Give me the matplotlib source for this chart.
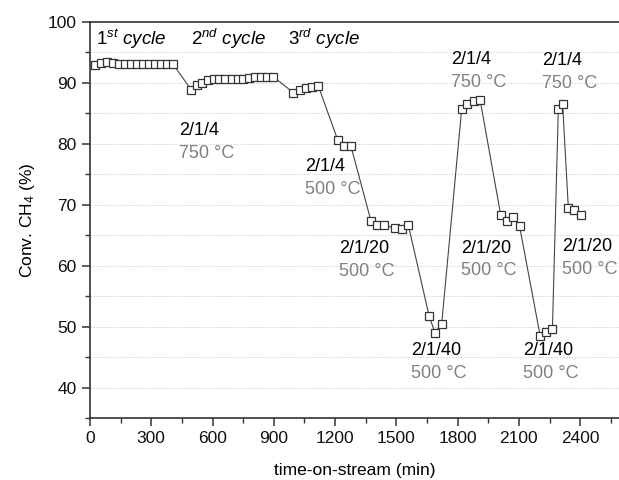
import matplotlib
matplotlib.use('Agg')
import matplotlib.pyplot as plt
from matplotlib.ticker import MultipleLocator

# time-on-stream (min) and CH4 conversion (%)
t_min = [23, 52, 82, 112, 141, 171, 200, 230, 259, 288, 318, 347, 377, 406,
         495, 522, 550, 580, 609, 633, 662, 694, 723, 751, 779, 808, 837, 868, 898,
         996, 1028, 1056, 1089, 1118,
         1213, 1244, 1277,
         1376, 1404, 1440, 1494, 1526, 1559,
         1660, 1689, 1722,
         1820, 1848, 1880, 1910,
         2011, 2040, 2073, 2103,
         2204, 2231, 2264,
         2293, 2314,
         2342, 2371, 2403]
conv = [92.9, 93.2, 93.4, 93.2, 93.1, 93.1, 93.1, 93.1, 93.1, 93.1, 93.1, 93.1, 93.1, 93.1,
        88.9, 89.6, 90.0, 90.4, 90.6, 90.6, 90.7, 90.7, 90.7, 90.7, 90.8, 90.9, 90.9, 91.0, 91.0,
        88.4, 88.8, 89.1, 89.3, 89.5,
        80.6, 79.7, 79.7,
        67.3, 66.7, 66.6, 66.2, 66.1, 66.6,
        51.8, 49.0, 50.5,
        85.8, 86.5, 87.0, 87.2,
        68.3, 67.4, 68.0, 66.5,
        48.5, 49.1, 49.6,
        85.8, 86.5,
        69.4, 69.1, 68.4]

cycle_labels = [r'$\it{1}^{st}$ cycle', r'$\it{2}^{nd}$ cycle', r'$\it{3}^{rd}$ cycle']
cycle_x = [30, 495, 968]

ratio_labels = ['2/1/4', '2/1/4', '2/1/20', '2/1/40', '2/1/4', '2/1/20', '2/1/40', '2/1/4', '2/1/20']
temp_labels = ['750 °C', '500 °C', '500 °C', '500 °C', '750 °C', '500 °C', '500 °C', '750 °C', '500 °C']
label_x = [436, 1053, 1219, 1570, 1766, 1815, 2119, 2215, 2310]
label_y = [82.2, 76.3, 62.8, 46.1, 93.9, 62.9, 46.0, 93.7, 63.1]

plt.rcParams['font.family'] = ['Liberation Sans', 'DejaVu Sans']
plt.rcParams['mathtext.fontset'] = 'custom'
plt.rcParams['mathtext.rm'] = 'Liberation Sans'
plt.rcParams['mathtext.it'] = 'Liberation Sans:italic'

fig = plt.figure(figsize=(6.19, 4.8), dpi=100)
ax = fig.add_axes([90 / 619, 62 / 480, 529 / 619, 396 / 480])

ax.plot(t_min, conv, color='#444444', lw=0.8, marker='s', markersize=6,
        markerfacecolor='white', markeredgecolor='#333333', markeredgewidth=0.9)

ax.set_xlim(0, 2590)
ax.set_ylim(35, 100)
ax.xaxis.set_major_locator(MultipleLocator(300))
ax.xaxis.set_minor_locator(MultipleLocator(150))
ax.yaxis.set_major_locator(MultipleLocator(10))
ax.yaxis.set_minor_locator(MultipleLocator(5))
ax.set_yticks([40, 50, 60, 70, 80, 90, 100])

for y in range(40, 100, 5):
    ax.axhline(y, color='#d4d4d4', lw=0.7, ls=(0, (1.5, 1.5)), zorder=0)

ax.tick_params(which='major', direction='out', length=6, width=1.1, labelsize=12.5, colors='#333333', labelcolor='#111111')
ax.tick_params(which='minor', direction='out', length=3.5, width=1.0, colors='#333333')
for side in ['left', 'bottom', 'top']:
    ax.spines[side].set_linewidth(1.2)
    ax.spines[side].set_color('#333333')
ax.spines['right'].set_visible(False)

ax.set_xlabel('time-on-stream (min)', fontsize=12.5, labelpad=12)
ax.set_ylabel('Conv. CH$_4$ (%)', fontsize=12.5, labelpad=8)

for lab, x in zip(cycle_labels, cycle_x):
    ax.text(x, 97.2, lab, fontsize=13.5, style='italic', ha='left', va='center')

for r, tmp, x, y in zip(ratio_labels, temp_labels, label_x, label_y):
    ax.text(x, y, r, fontsize=13, color='black', ha='left', va='center')
    ax.text(x, y - 3.75, tmp, fontsize=13, color='#808080', ha='left', va='center')

fig.savefig('out.png', dpi=100)
